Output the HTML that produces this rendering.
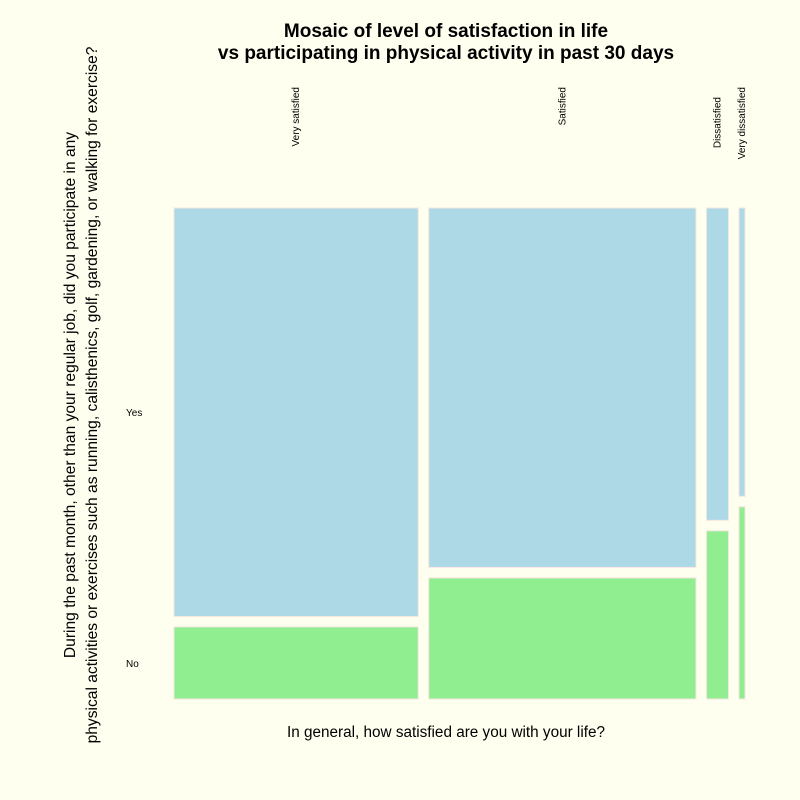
<!DOCTYPE html>
<html><head><meta charset="utf-8"><style>
body{margin:0;background:#fffff0;}
svg{display:block;font-family:"Liberation Sans",Arial,sans-serif;}
</style></head><body>
<svg width="800" height="800">
<rect width="800" height="800" fill="#fffff0"/>
<text x="446" y="37" text-anchor="middle" font-size="19" font-weight="bold">Mosaic of level of satisfaction in life</text>
<text x="446" y="59" text-anchor="middle" font-size="19" font-weight="bold">vs participating in physical activity in past 30 days</text>
<text x="446" y="737" text-anchor="middle" font-size="15.3">In general, how satisfied are you with your life?</text>
<g transform="translate(75,395) rotate(-90)">
<text x="0" y="0" text-anchor="middle" font-size="15.6">During the past month, other than your regular job, did you participate in any</text>
<text x="0" y="22" text-anchor="middle" font-size="15.6">physical activities or exercises such as running, calisthenics, golf, gardening, or walking for exercise?</text>
</g>
<text x="126" y="416" font-size="10">Yes</text>
<text x="126" y="667" font-size="10">No</text>
<g id="marks"></g>
</svg>
<script>
const categories=["Very satisfied","Satisfied","Dissatisfied","Very dissatisfied"];
const widthsCount=[244,267,22,6];
const yesShare=[0.85,0.748,0.65,0.60];
const labelTop=[87,87,97,87];
const NS="http://www.w3.org/2000/svg";
const svg=document.querySelector('svg');
const x0=174,x1=745,y0=208,y1=699,gap=10.5;
const total=widthsCount.reduce((a,b)=>a+b,0);
const avW=(x1-x0)-gap*(categories.length-1);
const avH=(y1-y0)-gap;
let x=x0;
categories.forEach((c,i)=>{
  const w=widthsCount[i]/total*avW;
  const hy=yesShare[i]*avH;
  const r1=document.createElementNS(NS,'rect');
  r1.setAttribute('x',x);r1.setAttribute('y',y0);r1.setAttribute('width',w);r1.setAttribute('height',hy);
  r1.setAttribute('fill','#add8e6');r1.setAttribute('stroke','#f5e6e0');r1.setAttribute('stroke-width','1');
  
  
  svg.appendChild(r1);
  const r2=document.createElementNS(NS,'rect');
  r2.setAttribute('x',x);r2.setAttribute('y',y0+hy+gap);r2.setAttribute('width',w);r2.setAttribute('height',y1-(y0+hy+gap));
  r2.setAttribute('fill','#90ee90');r2.setAttribute('stroke','#f5e6e0');r2.setAttribute('stroke-width','1');
  
  
  svg.appendChild(r2);
  const t=document.createElementNS(NS,'text');
  const cx=x+w/2+3;
  t.setAttribute('transform','translate('+cx+','+labelTop[i]+') rotate(-90)');
  t.setAttribute('text-anchor','end');t.setAttribute('font-size','10');
  t.textContent=c;
  
  
  svg.appendChild(t);
  x+=w+gap;
});
</script>
</body></html>
